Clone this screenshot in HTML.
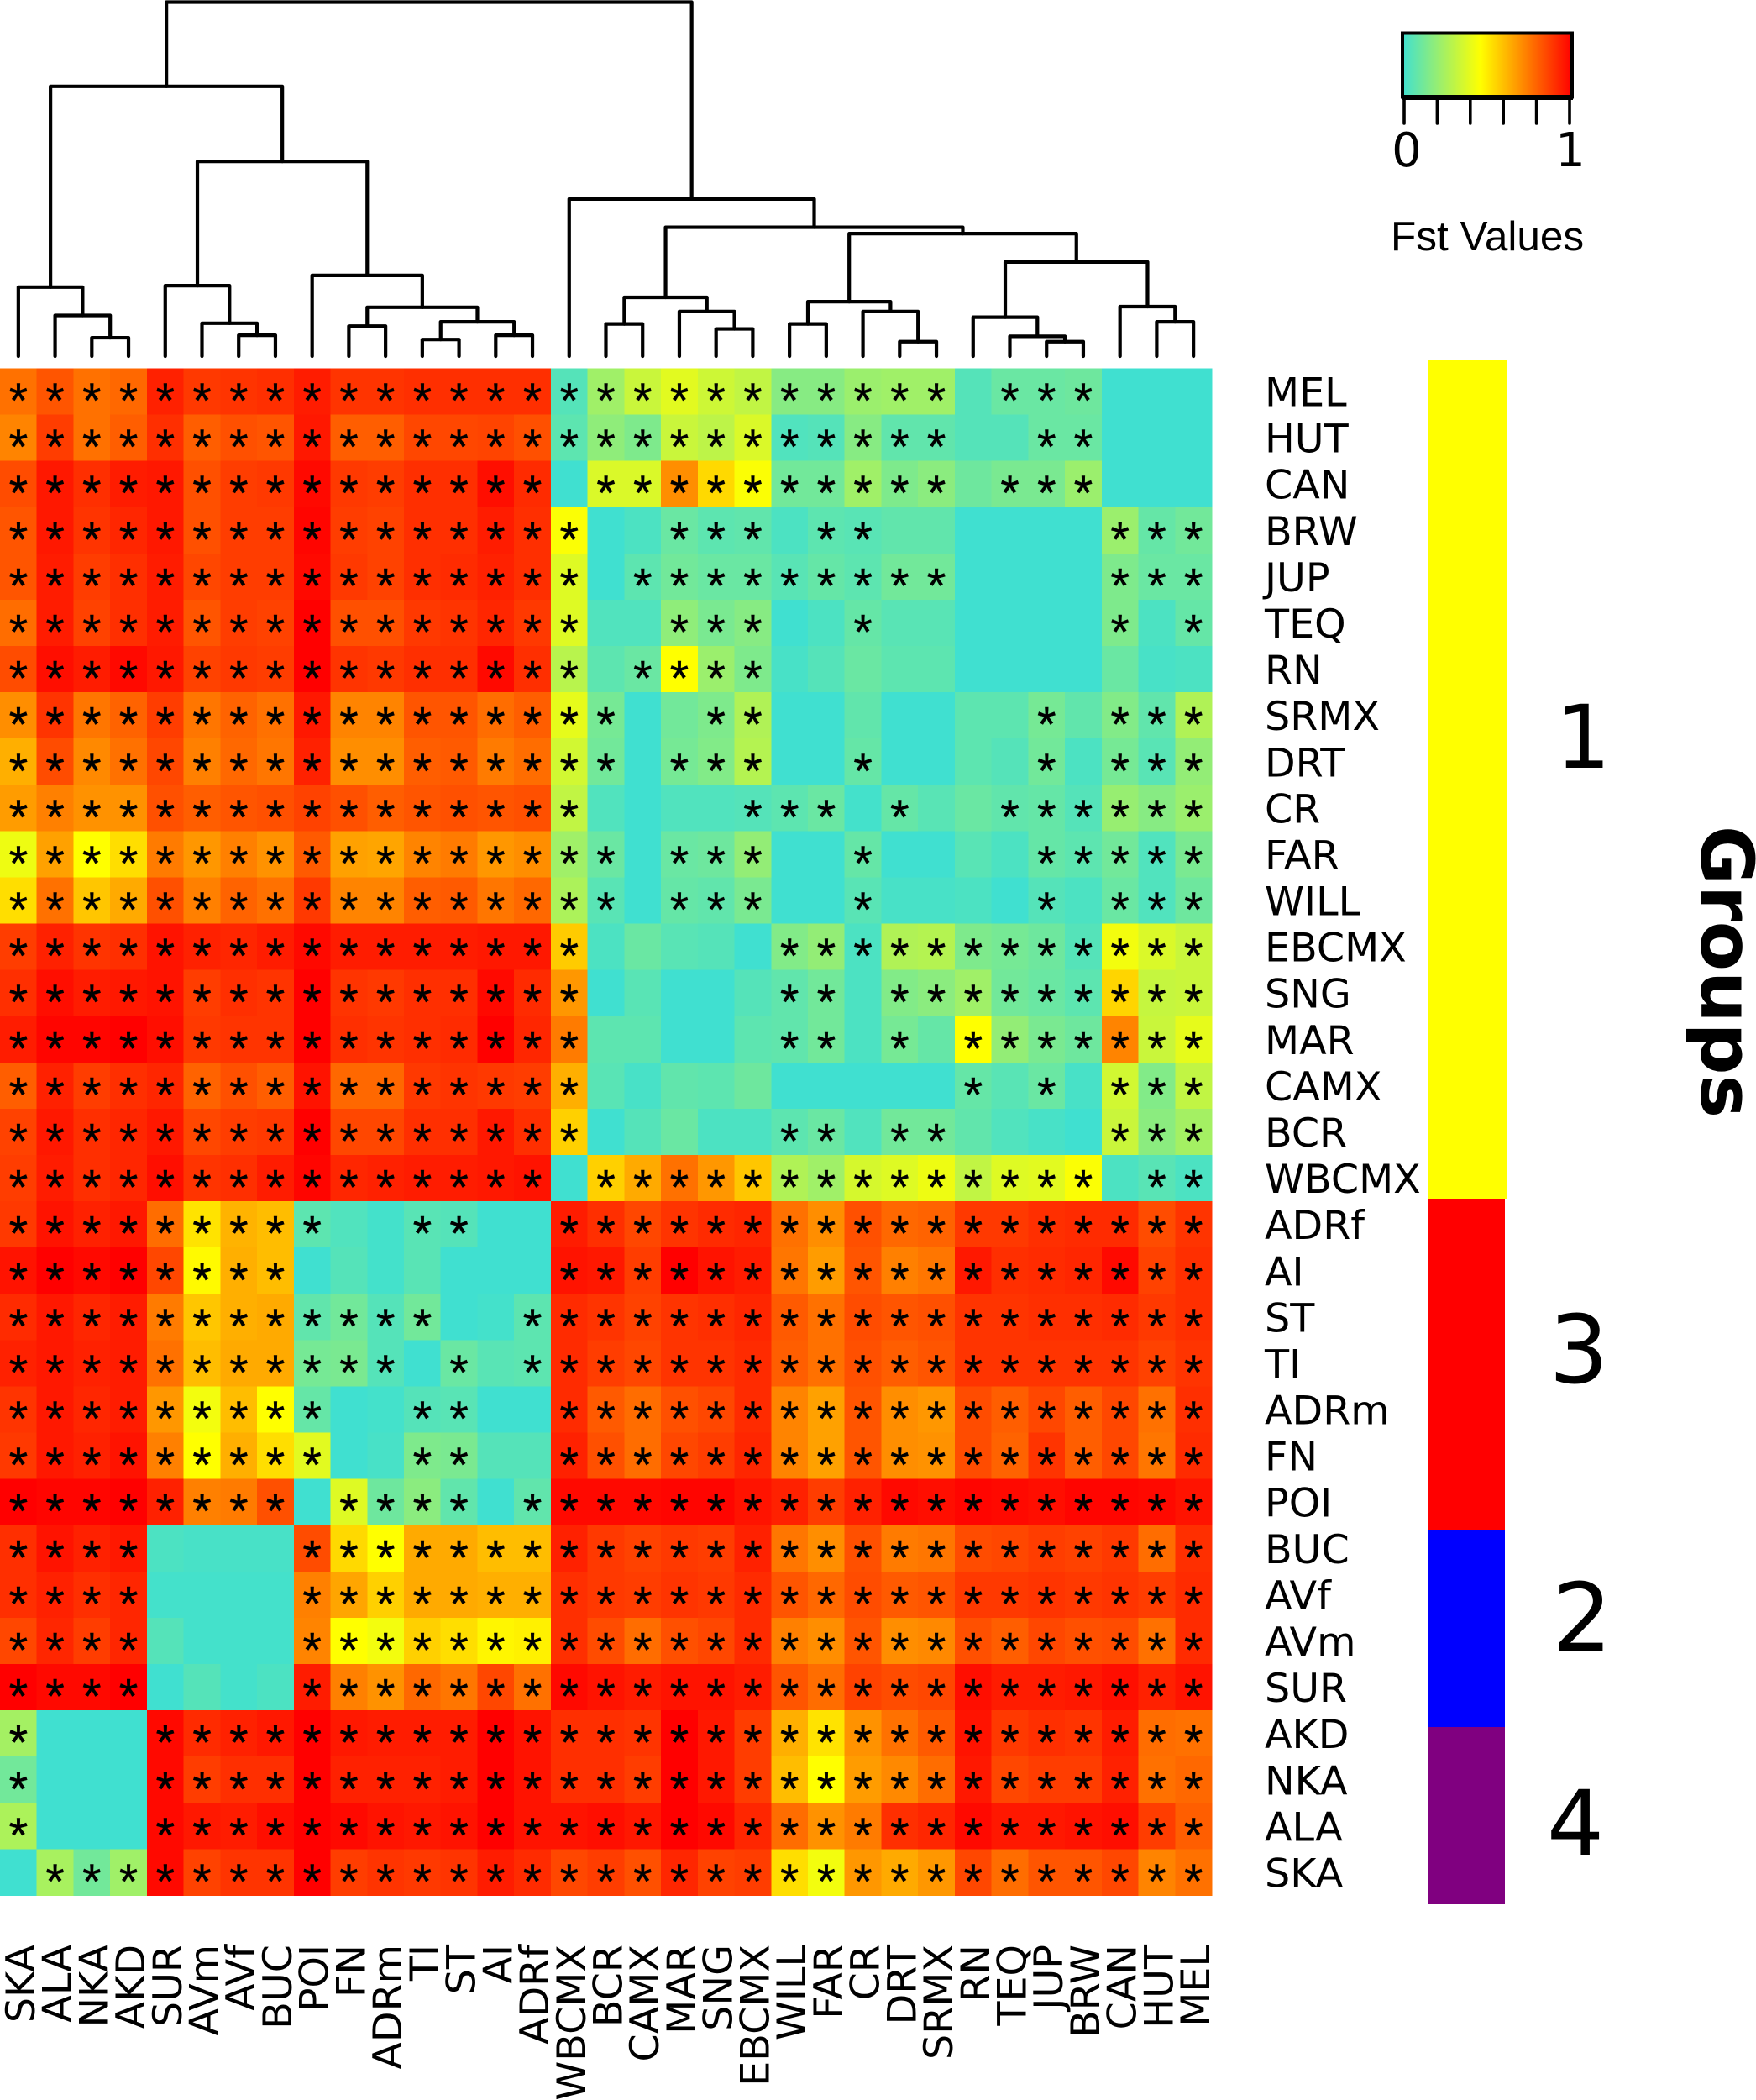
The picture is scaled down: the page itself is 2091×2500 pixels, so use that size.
<!DOCTYPE html>
<html lang="en">
<head>
<meta charset="utf-8">
<title>Fst heatmap</title>
<style>
html,body{margin:0;padding:0;background:#fff;}
svg{display:block;}
text{fill:#000;}
.lab{font-family:"DejaVu Sans",sans-serif;font-size:47.6px;}
.star{font-family:"Liberation Sans",sans-serif;font-size:58px;stroke:#000;stroke-width:0.4px;}
</style>
</head>
<body>
<svg id="chart" xmlns="http://www.w3.org/2000/svg" width="2091" height="2500" viewBox="0 0 2091 2500">
  <defs>
    <linearGradient id="ramp" x1="0" x2="1" y1="0" y2="0">
      <stop offset="0" stop-color="#40E0D0"/>
      <stop offset="0.46" stop-color="#FFFF00"/>
      <stop offset="1" stop-color="#FF0000"/>
    </linearGradient>
  </defs>
  <g id="dendrogram" fill="none" stroke="#000" stroke-width="4.2" stroke-linejoin="round" stroke-linecap="round"></g>
  <g id="cells" shape-rendering="crispEdges"></g>
  <g id="stars"></g>
  <g id="rowlabels"></g>
  <g id="collabels"></g>

  <g>
    <rect x="1670" y="39.5" width="202" height="76" fill="url(#ramp)" stroke="#000" stroke-width="4"/>
    <line x1="1669" x2="1873" y1="116" y2="116" stroke="#000" stroke-width="6"/>
    <g id="legendticks" stroke="#000" stroke-width="3.6" stroke-linecap="round"></g>
    <text x="1675" y="198" text-anchor="middle" font-family="DejaVu Sans, sans-serif" font-size="56">0</text>
    <text x="1870" y="198" text-anchor="middle" font-family="DejaVu Sans, sans-serif" font-size="56">1</text>
    <text x="1656" y="298" font-family="Liberation Sans, sans-serif" font-size="49.5">Fst Values</text>
  </g>

  <g shape-rendering="crispEdges">
    <rect x="1701" y="429" width="93" height="998" fill="#FFFF00"/>
    <rect x="1701" y="1427" width="91" height="395" fill="#FF0000"/>
    <rect x="1701" y="1822" width="91" height="234" fill="#0000FF"/>
    <rect x="1701" y="2056" width="91" height="211" fill="#800080"/>
  </g>
  <g font-family="DejaVu Sans, sans-serif" text-anchor="middle">
    <text x="1885" y="914" font-size="104">1</text>
    <text x="1880" y="1646" font-size="112">3</text>
    <text x="1884" y="1965" font-size="112">2</text>
    <text x="1876" y="2208" font-size="107">4</text>
  </g>
  <text transform="translate(2026,983) rotate(90)" font-family="DejaVu Sans, sans-serif" font-weight="bold" font-size="86.5">Groups</text>
</svg>

<script>
const colLabels = ["SKA","ALA","NKA","AKD","SUR","AVm","AVf","BUC","POI","FN","ADRm","TI","ST","AI","ADRf","WBCMX","BCR","CAMX","MAR","SNG","EBCMX","WILL","FAR","CR","DRT","SRMX","RN","TEQ","JUP","BRW","CAN","HUT","MEL"];
const rowLabels = ["MEL","HUT","CAN","BRW","JUP","TEQ","RN","SRMX","DRT","CR","FAR","WILL","EBCMX","SNG","MAR","CAMX","BCR","WBCMX","ADRf","AI","ST","TI","ADRm","FN","POI","BUC","AVf","AVm","SUR","AKD","NKA","ALA","SKA"];

const fstValues = [
[.76,.82,.76,.78,.93,.88,.89,.90,.94,.89,.89,.90,.90,.90,.90,.05,.23,.33,.39,.34,.31,.17,.17,.22,.23,.23,.05,.10,.10,.11,0,0,0],
[.72,.87,.76,.80,.90,.80,.83,.82,.95,.80,.80,.85,.85,.855,.83,.07,.19,.15,.33,.30,.37,.04,.05,.17,.08,.08,.05,.05,.10,.10,0,0,0],
[.84,.95,.90,.94,.95,.83,.87,.88,.98,.88,.87,.90,.90,.97,.91,0,.37,.37,.70,.54,.45,.12,.12,.23,.15,.18,.11,.14,.14,.22,0,0,0],
[.82,.95,.89,.92,.95,.83,.87,.87,.99,.87,.86,.90,.90,.94,.90,.45,0,.03,.10,.07,.08,.03,.07,.06,.08,.08,0,0,0,0,.22,.09,.12],
[.82,.94,.87,.90,.94,.85,.87,.87,.98,.88,.86,.90,.91,.93,.90,.38,0,.07,.12,.10,.10,.06,.09,.07,.12,.12,0,0,0,0,.15,.10,.10],
[.77,.94,.86,.90,.94,.82,.87,.86,1,.83,.83,.88,.89,.92,.88,.38,.04,.04,.19,.14,.17,0,.03,.09,.06,.06,0,0,0,0,.15,.03,.09],
[.84,.97,.94,.98,.95,.86,.88,.87,1,.89,.88,.90,.90,.98,.90,.29,.07,.10,.46,.22,.15,.02,.05,.10,.07,.07,0,0,0,0,.10,.02,.03],
[.70,.89,.75,.79,.87,.75,.79,.76,.95,.72,.72,.82,.82,.77,.80,.40,.13,0,.12,.15,.27,0,0,.08,0,0,.07,.07,.13,.08,.16,.08,.27],
[.63,.84,.71,.76,.85,.73,.78,.75,.93,.70,.70,.80,.81,.74,.77,.35,.12,0,.13,.16,.28,0,0,.09,0,0,.07,.05,.12,.03,.13,.06,.20],
[.67,.73,.69,.69,.83,.80,.82,.83,.86,.83,.80,.82,.83,.82,.83,.31,.04,0,.04,.04,.05,.07,.10,.01,.09,.06,.10,.08,.09,.05,.21,.17,.22],
[.42,.66,.46,.53,.74,.68,.73,.69,.81,.66,.65,.72,.74,.68,.70,.23,.10,0,.10,.11,.20,0,0,.09,0,0,.06,.03,.09,.07,.12,.04,.14],
[.53,.76,.58,.64,.83,.73,.79,.76,.88,.72,.72,.80,.81,.75,.78,.26,.06,0,.09,.08,.14,0,0,.06,.02,.02,.03,0,.05,.03,.10,.04,.11],
[.87,.93,.89,.90,.96,.93,.92,.94,.98,.94,.94,.94,.94,.95,.95,.57,.03,.10,.06,.05,0,.16,.20,.03,.27,.28,.15,.13,.11,.05,.43,.37,.33],
[.90,.97,.94,.95,.96,.87,.90,.89,1,.89,.88,.90,.90,.98,.91,.68,0,.06,0,0,.05,.08,.12,.03,.16,.18,.23,.12,.10,.07,.55,.32,.33],
[.94,.99,.99,1,.97,.88,.89,.89,1,.90,.89,.90,.91,1,.92,.74,.07,.07,0,0,.07,.08,.12,.03,.13,.09,.46,.20,.14,.11,.72,.33,.40],
[.80,.93,.87,.90,.92,.79,.83,.80,.96,.78,.78,.88,.89,.88,.87,.63,.06,.02,.08,.07,.11,0,0,0,0,0,.09,.06,.10,.02,.35,.16,.31],
[.86,.95,.90,.92,.95,.85,.87,.88,1,.85,.85,.90,.90,.95,.90,.56,0,.05,.10,.03,.03,.07,.10,.04,.12,.12,.08,.04,.02,0,.33,.18,.24],
[.87,.94,.90,.92,.97,.89,.90,.94,.99,.92,.93,.94,.94,.95,.96,0,.56,.64,.76,.68,.58,.27,.23,.36,.38,.42,.31,.38,.39,.45,.03,.06,.03],
[.88,.96,.93,.95,.77,.52,.62,.60,.07,.04,.01,.06,.05,0,0,.94,.90,.85,.89,.91,.92,.76,.70,.83,.78,.79,.88,.88,.90,.91,.91,.84,.89],
[.96,1,.98,1,.85,.47,.63,.60,0,.05,.01,.06,0,0,0,.96,.95,.87,1,.96,.94,.75,.67,.82,.73,.75,.95,.90,.91,.92,.98,.86,.90],
[.91,.95,.92,.94,.74,.58,.63,.64,.08,.12,.05,.12,0,.01,.07,.91,.89,.86,.89,.90,.92,.81,.76,.84,.82,.83,.89,.89,.90,.90,.91,.88,.90],
[.93,.95,.93,.94,.76,.60,.64,.64,.13,.14,.05,0,.10,.06,.07,.91,.87,.85,.89,.89,.91,.80,.76,.83,.80,.82,.89,.89,.89,.89,.89,.86,.89],
[.89,.95,.92,.94,.68,.43,.60,.46,.09,0,.01,.05,.06,0,0,.91,.81,.77,.83,.85,.91,.72,.66,.82,.70,.68,.84,.80,.85,.80,.85,.76,.90],
[.88,.95,.93,.96,.73,.46,.63,.53,.39,0,.02,.15,.14,.05,.05,.93,.83,.77,.85,.87,.92,.72,.66,.82,.70,.69,.84,.79,.89,.80,.85,.75,.91],
[1,.99,.99,1,.93,.73,.74,.83,0,.38,.11,.18,.08,0,.08,.98,.98,.98,.99,.99,.96,.93,.87,.93,.98,.97,.99,.98,.97,.99,.99,.98,.96],
[.90,.96,.93,.95,.03,.02,.02,.02,.84,.54,.46,.64,.64,.60,.60,.93,.88,.86,.88,.87,.93,.75,.70,.83,.74,.75,.84,.85,.87,.86,.88,.77,.90],
[.90,.93,.90,.92,.01,.01,.01,.01,.73,.65,.56,.64,.64,.63,.63,.90,.88,.87,.89,.88,.91,.82,.78,.84,.81,.82,.88,.88,.89,.88,.89,.87,.91],
[.85,.92,.87,.92,.05,.01,.01,.01,.72,.46,.43,.56,.53,.48,.49,.90,.84,.77,.83,.85,.91,.73,.70,.82,.70,.71,.83,.80,.85,.83,.84,.76,.91],
[1,.98,.98,1,0,.05,.01,.03,.94,.73,.69,.78,.75,.85,.76,.98,.96,.94,.96,.96,.94,.82,.77,.86,.84,.85,.97,.94,.94,.95,.97,.93,.96],
[.24,0,0,0,.98,.91,.93,.95,1,.95,.94,.94,.94,1,.96,.90,.90,.89,1,.95,.87,.63,.52,.69,.76,.81,.96,.88,.90,.89,.94,.77,.76],
[.12,0,0,0,.98,.87,.90,.90,1,.93,.93,.93,.94,1,.96,.90,.90,.87,1,.95,.87,.60,.46,.67,.71,.77,.95,.85,.87,.87,.93,.76,.78],
[.26,0,0,0,.98,.95,.94,.97,1,.98,.96,.95,.96,1,.96,.96,.97,.95,1,.98,.92,.77,.69,.74,.90,.92,.98,.95,.95,.96,.97,.87,.80],
[0,.25,.12,.23,.98,.86,.89,.89,1,.87,.89,.88,.89,.94,.91,.85,.87,.83,.92,.86,.87,.53,.43,.68,.64,.68,.85,.77,.82,.82,.85,.72,.76]
];

const significant = [
"111111111111111"+"1"+"11111"+"11111"+"0111"+"000",
"111111111111111"+"1"+"11111"+"11111"+"0011"+"000",
"111111111111111"+"0"+"11111"+"11111"+"0111"+"000",
"111111111111111"+"1"+"00111"+"01100"+"0000"+"111",
"111111111111111"+"1"+"01111"+"11111"+"0000"+"111",
"111111111111111"+"1"+"00111"+"00100"+"0000"+"101",
"111111111111111"+"1"+"01111"+"00000"+"0000"+"000",
"111111111111111"+"1"+"10011"+"00000"+"0010"+"111",
"111111111111111"+"1"+"10111"+"00100"+"0010"+"111",
"111111111111111"+"1"+"00001"+"11010"+"0111"+"111",
"111111111111111"+"1"+"10111"+"00100"+"0011"+"111",
"111111111111111"+"1"+"10111"+"00100"+"0010"+"111",
"111111111111111"+"1"+"00000"+"11111"+"1111"+"111",
"111111111111111"+"1"+"00000"+"11011"+"1111"+"111",
"111111111111111"+"1"+"00000"+"11010"+"1111"+"111",
"111111111111111"+"1"+"00000"+"00000"+"1010"+"111",
"111111111111111"+"1"+"00000"+"11011"+"0000"+"111",
"111111111111111"+"0"+"11111"+"11111"+"1111"+"011",
"111111111001100"+"1"+"11111"+"11111"+"1111"+"111",
"111111110000000"+"1"+"11111"+"11111"+"1111"+"111",
"111111111111001"+"1"+"11111"+"11111"+"1111"+"111",
"111111111110101"+"1"+"11111"+"11111"+"1111"+"111",
"111111111001100"+"1"+"11111"+"11111"+"1111"+"111",
"111111111001100"+"1"+"11111"+"11111"+"1111"+"111",
"111111110111101"+"1"+"11111"+"11111"+"1111"+"111",
"111100001111111"+"1"+"11111"+"11111"+"1111"+"111",
"111100001111111"+"1"+"11111"+"11111"+"1111"+"111",
"111100001111111"+"1"+"11111"+"11111"+"1111"+"111",
"111100001111111"+"1"+"11111"+"11111"+"1111"+"111",
"100011111111111"+"1"+"11111"+"11111"+"1111"+"111",
"100011111111111"+"1"+"11111"+"11111"+"1111"+"111",
"100011111111111"+"1"+"11111"+"11111"+"1111"+"111",
"011111111111111"+"1"+"11111"+"11111"+"1111"+"111"
];

// Dendrogram: [left, right, height]; a plain number is a column index.
const dendrogramTree = [
  [
    [0,[1,[2,3,5.2],11.5],19.5],
    [
      [4,[5,[6,7,5.9],9.3],19.9],
      [8,[[9,10,8.5],[[11,12,4.7],[13,14,5.9],9.7],13.8],22.8],
      55
    ],
    76.2
  ],
  [15,
    [
      [[16,17,9.1],[18,[19,20,7.7],12.6],16.6],
      [
        [[21,22,9.1],[23,[24,25,4.1],12.6],15.4],
        [[26,[27,[28,29,4.1],5.6],11],[30,[31,32,9.7],14],26.6],
        34.6
      ],
      36.4
    ],
    44.4
  ],
  100
];

const legendTickValues = [0,0.2,0.4,0.6,0.8,1];

const NS = "http://www.w3.org/2000/svg";
const plotW = 1443, plotTop = 438.5, plotH = 1818;
const cellW = plotW / colLabels.length;
const cellH = plotH / rowLabels.length;
const xScale = function (c) { return c * cellW; };
const yScale = function (r) { return plotTop + r * cellH; };
const dendroY = function (h) { return 424 - h * 4.215; };
const legendX = function (v) { return 1672 + v * 197; };

function lerp(a, b, t) { return Math.round(a + (b - a) * t); }
function colorOf(v) {
  const mid = 0.46;
  if (v <= mid) {
    const t = v / mid;
    return "rgb(" + lerp(64, 255, t) + "," + lerp(224, 255, t) + "," + lerp(208, 0, t) + ")";
  }
  const t = (v - mid) / (1 - mid);
  return "rgb(255," + lerp(255, 0, t) + ",0)";
}
function mk(tag, parent) {
  const el = document.createElementNS(NS, tag);
  parent.appendChild(el);
  return el;
}

const cellsG = document.getElementById("cells");
const starsG = document.getElementById("stars");
fstValues.forEach(function (row, r) {
  row.forEach(function (v, c) {
    const rect = mk("rect", cellsG);
    
    
    rect.setAttribute("x", xScale(c));
    rect.setAttribute("y", yScale(r));
    rect.setAttribute("width", cellW + 0.5);
    rect.setAttribute("height", cellH + 0.5);
    rect.setAttribute("fill", colorOf(v));
    if (significant[r][c] === "1") {
      const s = mk("text", starsG);
      
      
      s.setAttribute("class", "star");
      s.setAttribute("x", xScale(c) + cellW / 2);
      s.setAttribute("y", yScale(r) + cellH / 2 + 31);
      s.setAttribute("text-anchor", "middle");
      s.textContent = "*";
    }
  });
});

const rowG = document.getElementById("rowlabels");
rowLabels.forEach(function (name, r) {
  const t = mk("text", rowG);
  
  
  t.setAttribute("class", "lab");
  t.setAttribute("x", 1506);
  t.setAttribute("y", yScale(r) + cellH / 2 + 17.5);
  t.textContent = name;
});

const colG = document.getElementById("collabels");
colLabels.forEach(function (name, c) {
  const t = mk("text", colG);
  
  
  t.setAttribute("class", "lab");
  t.setAttribute("text-anchor", "end");
  const bx = xScale(c) + cellW / 2 + 19;
  t.setAttribute("transform", "translate(" + bx + ",2315) rotate(-90)");
  t.textContent = name;
});

const dendroG = document.getElementById("dendrogram");
function drawNode(node) {
  if (typeof node === "number") {
    return { x: xScale(node) + cellW / 2, y: dendroY(0) };
  }
  const a = drawNode(node[0]);
  const b = drawNode(node[1]);
  const y = dendroY(node[2]);
  const p = mk("path", dendroG);
  
  
  p.setAttribute("d", "M" + a.x + " " + a.y + "V" + y + "H" + b.x + "V" + b.y);
  return { x: (a.x + b.x) / 2, y: y };
}
drawNode(dendrogramTree);

const ticksG = document.getElementById("legendticks");
legendTickValues.forEach(function (v) {
  const l = mk("line", ticksG);
  
  
  l.setAttribute("x1", legendX(v));
  l.setAttribute("x2", legendX(v));
  l.setAttribute("y1", 116);
  l.setAttribute("y2", 147);
});
</script>
</body>
</html>
